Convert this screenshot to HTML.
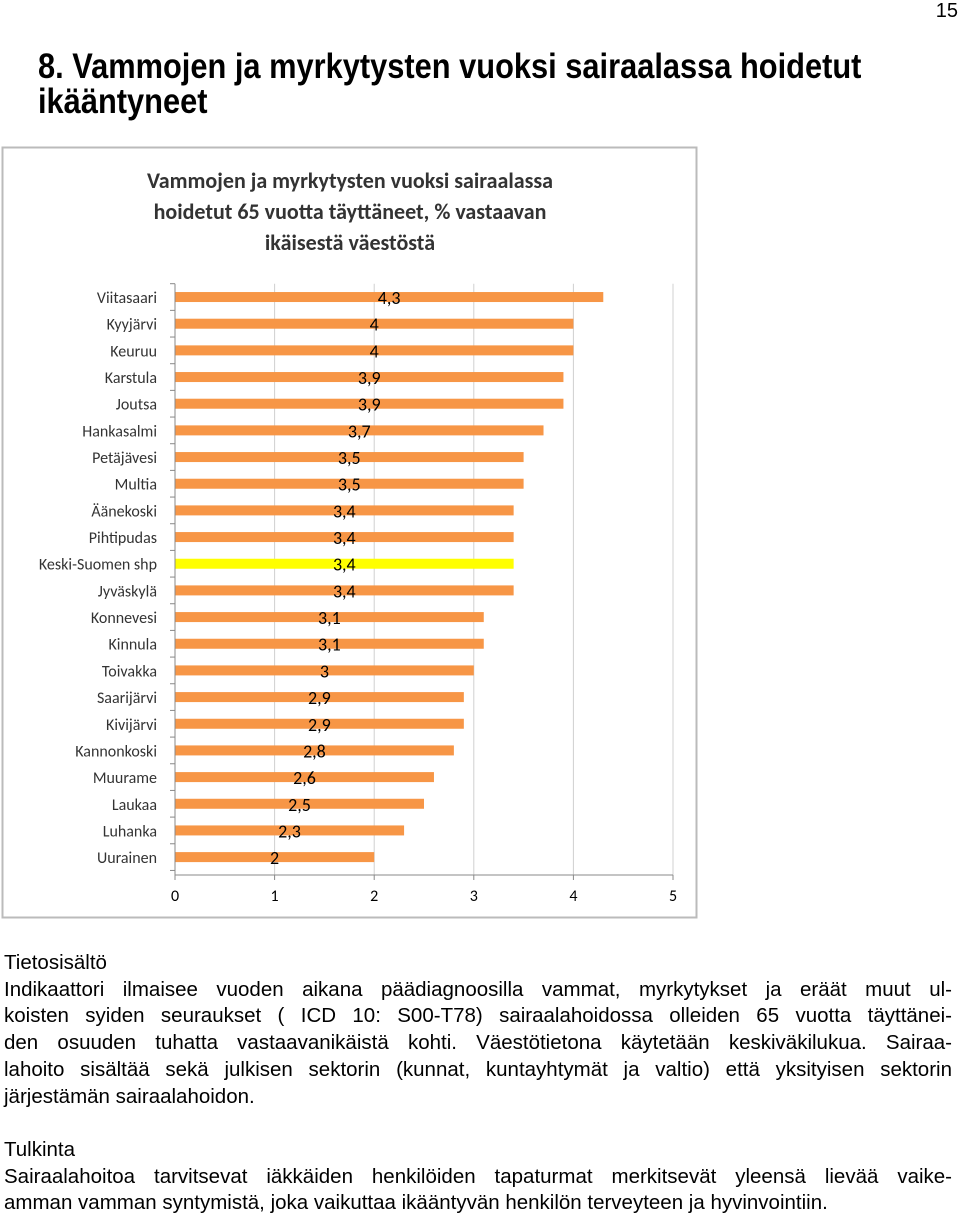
<!DOCTYPE html>
<html><head><meta charset="utf-8"><style>
body{margin:0;width:960px;height:1216px;background:#fff;position:relative;overflow:hidden;font-family:"Liberation Sans",Arial,sans-serif;color:#000}
.h{position:absolute;left:38px;font-family:"Liberation Sans Narrow","Liberation Sans",sans-serif;font-weight:bold;font-size:35px;line-height:35px;transform:scaleX(0.88);transform-origin:left top;white-space:nowrap}
.pn{position:absolute;right:2px;top:0;font-size:20px;font-family:"Liberation Sans Narrow","Liberation Sans",sans-serif}
.t{position:absolute;left:4px;width:948px;font-size:20.5px;line-height:26.7px}
.t div{text-align:justify;text-align-last:justify;white-space:nowrap}
.t div.l{text-align-last:left}
</style></head><body>
<div class="pn">15</div>
<div class="h" style="top:49px">8. Vammojen ja myrkytysten vuoksi sairaalassa hoidetut<br>ikääntyneet</div>
<svg id="chart" width="960" height="940" style="position:absolute;left:0;top:0">
<rect x="2.5" y="147.5" width="694" height="770" fill="#fff" stroke="#bbb" stroke-width="2"/>
<g font-family="Carlito,'Liberation Sans',sans-serif" font-weight="bold" font-size="22" fill="#333" text-anchor="middle">
<text x="350" y="188">Vammojen ja myrkytysten vuoksi sairaalassa</text>
<text x="350" y="219">hoidetut 65 vuotta täyttäneet, % vastaavan</text>
<text x="350" y="250">ikäisestä väestöstä</text>
</g>
<g id="plot"></g>
</svg>
<div class="t" style="top:950px">
<div class="l">Tietosisältö</div>
<div>Indikaattori ilmaisee vuoden aikana päädiagnoosilla vammat, myrkytykset ja eräät muut ul-</div>
<div>koisten syiden seuraukset ( ICD 10: S00-T78) sairaalahoidossa olleiden 65 vuotta täyttänei-</div>
<div>den osuuden tuhatta vastaavanikäistä kohti. Väestötietona käytetään keskiväkilukua. Sairaa-</div>
<div>lahoito sisältää sekä julkisen sektorin (kunnat, kuntayhtymät ja valtio) että yksityisen sektorin</div>
<div class="l">järjestämän sairaalahoidon.</div>
<div class="l">&nbsp;</div>
<div class="l">Tulkinta</div>
<div>Sairaalahoitoa tarvitsevat iäkkäiden henkilöiden tapaturmat merkitsevät yleensä lievää vaike-</div>
<div class="l">amman vamman syntymistä, joka vaikuttaa ikääntyvän henkilön terveyteen ja hyvinvointiin.</div>
</div>
<script>
const categories=["Viitasaari","Kyyjärvi","Keuruu","Karstula","Joutsa","Hankasalmi","Petäjävesi","Multia","Äänekoski","Pihtipudas","Keski-Suomen shp","Jyväskylä","Konnevesi","Kinnula","Toivakka","Saarijärvi","Kivijärvi","Kannonkoski","Muurame","Laukaa","Luhanka","Uurainen"];
const values=[4.3,4,4,3.9,3.9,3.7,3.5,3.5,3.4,3.4,3.4,3.4,3.1,3.1,3,2.9,2.9,2.8,2.6,2.5,2.3,2];
const valueLabels=["4,3","4","4","3,9","3,9","3,7","3,5","3,5","3,4","3,4","3,4","3,4","3,1","3,1","3","2,9","2,9","2,8","2,6","2,5","2,3","2"];
const xTicks=[0,1,2,3,4,5];
const highlight="Keski-Suomen shp";
const NS="http://www.w3.org/2000/svg";
const g=document.getElementById('plot');
const x0=175,ux=99.6,yTop=283.7,band=26.67,axisY=875;
const X=v=>x0+v*ux;
const Y=i=>yTop+band*(i+0.5);
function mk(t,a){const e=document.createElementNS(NS,t);for(const k in a)e.setAttribute(k,a[k]);g.appendChild(e);return e;}
const F="Carlito,'Liberation Sans',sans-serif";
xTicks.forEach(t=>{
 if(t>0){const l=mk('line',{x1:X(t),x2:X(t),y1:yTop,y2:axisY,stroke:'#d0d0d0','stroke-width':1});
 
 }
 const k=mk('line',{x1:X(t),x2:X(t),y1:axisY,y2:axisY+5,stroke:'#888'});
 
 
 const tx=mk('text',{x:X(t),y:901,'text-anchor':'middle','font-size':16,'font-family':F,fill:'#000'});
 tx.textContent=t;
 
 
});
categories.forEach((c,i)=>{
 const r=mk('rect',{x:X(0),y:Y(i)-5,width:X(values[i])-X(0),height:10,fill:c===highlight?'#ffff00':'#f79646'});
 
 
 const lb=mk('text',{x:157,y:Y(i)+6,'text-anchor':'end','font-size':16,'font-family':F,fill:'#333'});
 lb.textContent=c;
 
 
 const vl=mk('text',{x:X(values[i]/2),y:Y(i)+7,'text-anchor':'middle','font-size':18,'font-family':F,fill:'#000'});
 vl.textContent=valueLabels[i];
 
 
});
for(let k=0;k<=categories.length;k++){
 const tk=mk('line',{x1:X(0)-5,x2:X(0),y1:yTop+band*k,y2:yTop+band*k,stroke:'#888'});
 
 
}
const ya=mk('line',{x1:X(0),x2:X(0),y1:yTop,y2:axisY,stroke:'#888'});


const xa=mk('line',{x1:X(0),x2:X(5),y1:axisY,y2:axisY,stroke:'#888'});


</script>
</body></html>
